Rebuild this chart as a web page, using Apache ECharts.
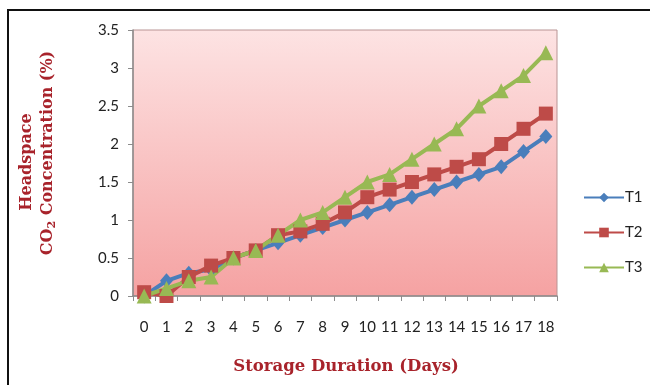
<!DOCTYPE html>
<html>
<head>
<meta charset="utf-8">
<script src="https://cdn.jsdelivr.net/npm/echarts@6/dist/echarts.min.js"></script>
<style>
  html, body { margin: 0; padding: 0; background: #ffffff; }
  #chart { width: 650px; height: 385px; }
</style>
</head>
<body>
<div id="chart"></div>
<script>
// Storage days on the category axis
const days = ['0','1','2','3','4','5','6','7','8','9','10','11','12','13','14','15','16','17','18'];

// Headspace CO2 concentration (%) per treatment
const t1 = [0.0, 0.2, 0.3, 0.35, 0.5, 0.6, 0.7, 0.8, 0.9, 1.0, 1.1, 1.2, 1.3, 1.4, 1.5, 1.6, 1.7, 1.9, 2.1];
const t2 = [0.05, 0.0, 0.25, 0.4, 0.5, 0.6, 0.8, 0.85, 0.95, 1.1, 1.3, 1.4, 1.5, 1.6, 1.7, 1.8, 2.0, 2.2, 2.4];
const t3 = [0.0, 0.1, 0.2, 0.25, 0.5, 0.6, 0.8, 1.0, 1.1, 1.3, 1.5, 1.6, 1.8, 2.0, 2.2, 2.5, 2.7, 2.9, 3.2];

const seriesNames = ['T1', 'T2', 'T3'];
const yTicks = { min: 0, max: 3.5, step: 0.5 };

const chart = echarts.init(document.getElementById('chart'), null, { renderer: 'canvas' });

const titleRed = '#a8232b';
const titleFont = 'DejaVu Serif';

function lineSeries(name, data, color, symbol, size) {
  return {
    name: name,
    type: 'line',
    data: data,
    symbol: symbol,
    symbolSize: size,
    showSymbol: true,
    lineStyle: { color: color, width: 4 },
    itemStyle: { color: color, borderWidth: 0 },
    emphasis: { disabled: true },
    z: 3
  };
}

chart.setOption({
  animation: false,
  grid: {
    left: 133, right: 93, top: 30, bottom: 89,
    show: true,
    borderColor: '#b99494',
    borderWidth: 1,
    backgroundColor: new echarts.graphic.LinearGradient(0, 0, 0, 1, [
      { offset: 0, color: '#fde3e3' },
      { offset: 1, color: '#f5a2a2' }
    ])
  },
  xAxis: {
    type: 'category',
    data: days,
    boundaryGap: true,
    axisLine: { lineStyle: { color: '#8c8c8c', width: 1.5 } },
    axisTick: { show: true, alignWithLabel: false, length: 5, lineStyle: { color: '#8c8c8c' } },
    axisLabel: { color: '#222', fontFamily: 'Lato', fontSize: 15, margin: 24, interval: 0 },
    splitLine: { show: false }
  },
  yAxis: {
    type: 'value',
    min: yTicks.min,
    max: yTicks.max,
    interval: yTicks.step,
    axisLine: { show: true, lineStyle: { color: '#8c8c8c', width: 1.5 } },
    axisTick: { show: true, length: 5, lineStyle: { color: '#8c8c8c' } },
    axisLabel: { color: '#222', fontFamily: 'Lato', fontSize: 15, margin: 14 },
    splitLine: { show: false }
  },
  legend: {
    orient: 'vertical',
    left: 578,
    top: 185,
    itemWidth: 40,
    itemHeight: 12,
    itemGap: 20,
    data: seriesNames,
    textStyle: { color: '#222', fontFamily: 'Lato', fontSize: 15, padding: [0, 0, 0, -4] }
  },
  graphic: [
    {
      type: 'rect',
      shape: { x: 8, y: 10, width: 700, height: 420 },
      style: { fill: 'none', stroke: '#111', lineWidth: 2 },
      silent: true
    },
    {
      type: 'text',
      x: 27, y: 162,
      rotation: Math.PI / 2,
      style: {
        text: 'Headspace',
        fontFamily: titleFont, fontWeight: 'bold', fontSize: 16,
        align: 'center',
        verticalAlign: 'middle',
        fill: titleRed
      }
    },
    {
      type: 'text',
      x: 48, y: 153,
      rotation: Math.PI / 2,
      style: {
        text: '{b|CO}{s|2}{b| Concentration (%)}',
        align: 'center',
        verticalAlign: 'middle',
        fill: titleRed,
        rich: {
          b: { fontFamily: titleFont, fontWeight: 'bold', fontSize: 16, fill: titleRed },
          s: { fontFamily: titleFont, fontWeight: 'bold', fontSize: 11, fill: titleRed, padding: [8, 0, 0, 0] }
        }
      }
    },
    {
      type: 'text',
      x: 346, y: 367,
      style: {
        text: 'Storage Duration (Days)',
        fontFamily: titleFont, fontWeight: 'bold', fontSize: 16.5,
        fill: titleRed,
        align: 'center',
        verticalAlign: 'middle'
      }
    }
  ],
  series: [
    lineSeries('T1', t1, '#4a7ebb', 'diamond', [13, 15]),
    lineSeries('T2', t2, '#be4b48', 'rect', 14),
    lineSeries('T3', t3, '#98b954', 'triangle', 15)
  ]
});
</script>
</body>
</html>
